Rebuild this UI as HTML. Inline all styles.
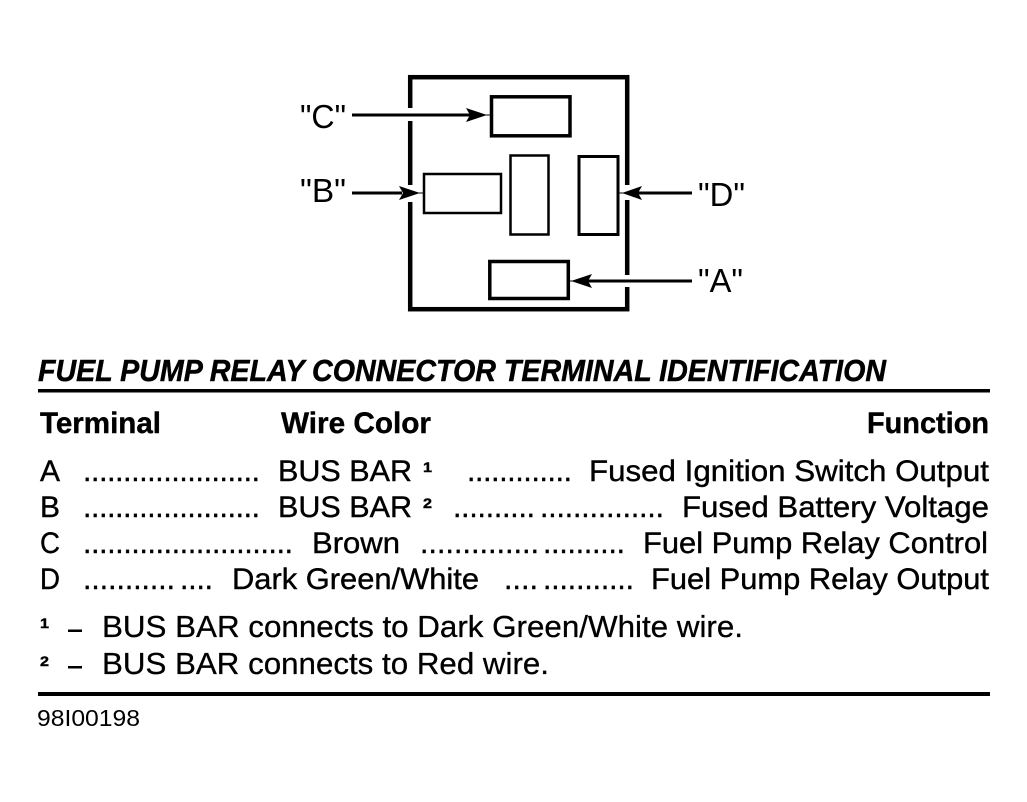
<!DOCTYPE html>
<html>
<head>
<meta charset="utf-8">
<style>
html,body{margin:0;padding:0;background:#fff;width:1027px;height:802px;overflow:hidden}
svg{display:block}
text{font-family:"Liberation Sans",sans-serif;fill:#000;font-size:30px;stroke:#000;stroke-width:.4px}
.b{font-weight:700;font-size:30px}
.t{font-weight:700;font-style:italic;font-size:31px;stroke-width:.5px}
.s{font-size:14px;font-weight:700}
.l{font-size:33px;stroke-width:0}
.f{font-size:31px;stroke-width:.3px}
.c{font-size:23px;stroke-width:0}
</style>
</head>
<body>
<svg width="1027" height="802" viewBox="0 0 1027 802" xmlns="http://www.w3.org/2000/svg">
  <rect width="1027" height="802" fill="#fff"/>
  <!-- outer housing -->
  <rect x="410.2" y="77.2" width="217" height="232" fill="none" stroke="#000" stroke-width="4.5"/>
  <!-- gaps in housing -->
  <rect x="406" y="108" width="9" height="13" fill="#fff"/>
  <rect x="406" y="185" width="9" height="17" fill="#fff"/>
  <rect x="623" y="185" width="9" height="15" fill="#fff"/>
  <rect x="623" y="275" width="9" height="12" fill="#fff"/>
  <!-- terminals -->
  <g fill="#fff" stroke="#000">
    <rect x="491.5" y="96.8" width="78.5" height="39" stroke-width="3.5"/>
    <rect x="424" y="174" width="77" height="39" stroke-width="2.5"/>
    <rect x="510.5" y="155.5" width="38" height="79" stroke-width="2.5"/>
    <rect x="579" y="156.5" width="39" height="78" stroke-width="3"/>
    <rect x="489.8" y="261.5" width="78.5" height="37" stroke-width="3.5"/>
  </g>
  <!-- leaders -->
  <g stroke="#000" fill="none">
    <path d="M352 115H470" stroke-width="3"/>
    <path d="M485 115H491" stroke-width="1"/>
    <path d="M352 193H402" stroke-width="3"/>
    <path d="M418 193H424" stroke-width="1"/>
    <path d="M692 193H636" stroke-width="3"/>
    <path d="M625 193H619" stroke-width="1"/>
    <path d="M692 281H588" stroke-width="3"/>
    <path d="M574 281H569" stroke-width="1"/>
  </g>
  <g fill="#000">
    <path d="M487 115L466 108L470 115L466 122Z"/>
    <path d="M420 193L399 186L403 193L399 200Z"/>
    <path d="M622 193L642 186L638 193L642 200Z"/>
    <path d="M571 281L592 274L588 281L592 288Z"/>
  </g>
  <!-- diagram labels -->
  <text class="l" x="300" y="128" textLength="46" lengthAdjust="spacingAndGlyphs">"C"</text>
  <text class="l" x="300" y="202" textLength="46" lengthAdjust="spacingAndGlyphs">"B"</text>
  <text class="l" x="698" y="206" textLength="47" lengthAdjust="spacingAndGlyphs">"D"</text>
  <text class="l" x="698" y="292" textLength="45" lengthAdjust="spacingAndGlyphs">"A"</text>
  <!-- title -->
  <text class="t" x="38" y="381" textLength="848" lengthAdjust="spacingAndGlyphs">FUEL PUMP RELAY CONNECTOR TERMINAL IDENTIFICATION</text>
  <rect x="38" y="389" width="952" height="3.5" fill="#000"/>
  <!-- headers -->
  <text class="b" x="40" y="433" textLength="121" lengthAdjust="spacingAndGlyphs">Terminal</text>
  <text class="b" x="281" y="433" textLength="150" lengthAdjust="spacingAndGlyphs">Wire Color</text>
  <text class="b" x="867" y="433" textLength="122" lengthAdjust="spacingAndGlyphs">Function</text>
  <!-- row A -->
  <text x="40" y="481" textLength="20" lengthAdjust="spacingAndGlyphs">A</text>
  <text x="83" y="481" textLength="177" lengthAdjust="spacing">......................</text>
  <text x="278" y="481" textLength="134" lengthAdjust="spacingAndGlyphs">BUS BAR</text>
  <text class="s" x="423" y="472" textLength="9" lengthAdjust="spacingAndGlyphs">1</text>
  <text x="467" y="481" textLength="105" lengthAdjust="spacing">.............</text>
  <text x="589" y="481" textLength="400" lengthAdjust="spacingAndGlyphs">Fused Ignition Switch Output</text>
  <!-- row B -->
  <text x="40" y="517" textLength="20" lengthAdjust="spacingAndGlyphs">B</text>
  <text x="83" y="517" textLength="177" lengthAdjust="spacing">......................</text>
  <text x="278" y="517" textLength="134" lengthAdjust="spacingAndGlyphs">BUS BAR</text>
  <text class="s" x="423" y="508" textLength="9" lengthAdjust="spacingAndGlyphs">2</text>
  <text x="453" y="517" textLength="82" lengthAdjust="spacing">..........</text>
  <text x="540" y="517" textLength="124" lengthAdjust="spacing">...............</text>
  <text x="682" y="517" textLength="307" lengthAdjust="spacingAndGlyphs">Fused Battery Voltage</text>
  <!-- row C -->
  <text x="40" y="553" textLength="20" lengthAdjust="spacingAndGlyphs">C</text>
  <text x="83" y="553" textLength="210" lengthAdjust="spacing">..........................</text>
  <text x="312" y="553" textLength="88" lengthAdjust="spacingAndGlyphs">Brown</text>
  <text x="420" y="553" textLength="119" lengthAdjust="spacing">..............</text>
  <text x="543" y="553" textLength="82" lengthAdjust="spacing">..........</text>
  <text x="643" y="553" textLength="345" lengthAdjust="spacingAndGlyphs">Fuel Pump Relay Control</text>
  <!-- row D -->
  <text x="40" y="589" textLength="20" lengthAdjust="spacingAndGlyphs">D</text>
  <text x="83" y="589" textLength="92" lengthAdjust="spacing">...........</text>
  <text x="180" y="589" textLength="33" lengthAdjust="spacing">....</text>
  <text x="232" y="589" textLength="247" lengthAdjust="spacingAndGlyphs">Dark Green/White</text>
  <text x="504" y="589" textLength="34" lengthAdjust="spacing">....</text>
  <text x="543" y="589" textLength="91" lengthAdjust="spacing">...........</text>
  <text x="651" y="589" textLength="338" lengthAdjust="spacingAndGlyphs">Fuel Pump Relay Output</text>
  <!-- footnotes -->
  <text class="s" x="40" y="628" textLength="9" lengthAdjust="spacingAndGlyphs">1</text>
  <rect x="68" y="629.5" width="14" height="2.5" fill="#000"/>
  <text class="f" x="102" y="637" textLength="641" lengthAdjust="spacingAndGlyphs">BUS BAR connects to Dark Green/White wire.</text>
  <text class="s" x="40" y="666" textLength="9" lengthAdjust="spacingAndGlyphs">2</text>
  <rect x="68" y="666" width="14" height="2.5" fill="#000"/>
  <text class="f" x="102" y="674" textLength="447" lengthAdjust="spacingAndGlyphs">BUS BAR connects to Red wire.</text>
  <rect x="38" y="692" width="952" height="4" fill="#000"/>
  <text class="c" x="37" y="726" textLength="103" lengthAdjust="spacingAndGlyphs">98I00198</text>
</svg>
</body>
</html>
